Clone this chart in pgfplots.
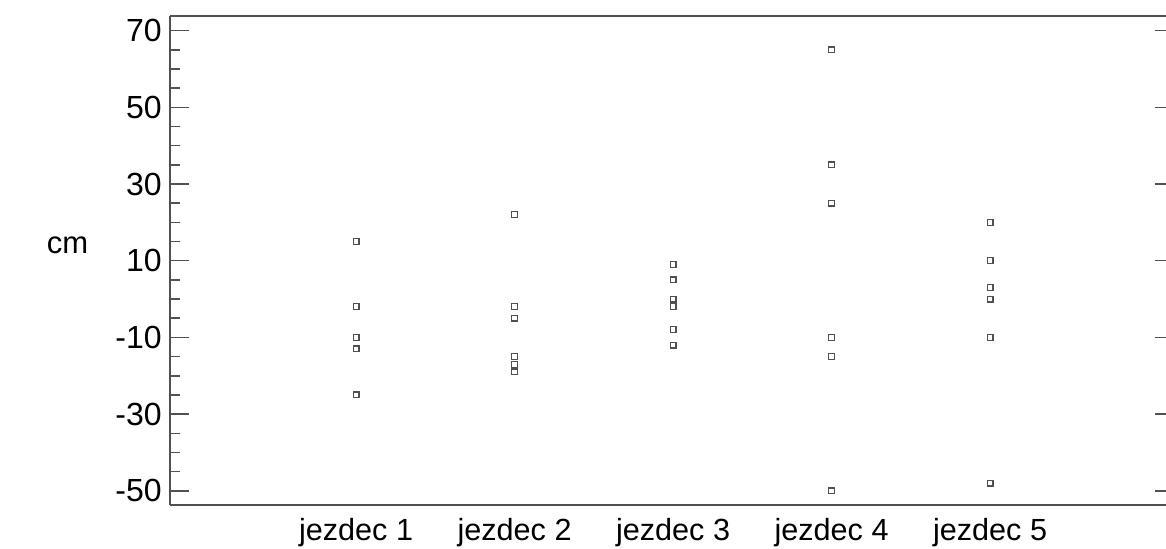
\documentclass[border=0pt]{standalone}
\usepackage{fontspec}
\setmainfont{Liberation Sans}
\usepackage{pgfplots}
\pgfplotsset{compat=1.18}
\definecolor{axgray}{RGB}{80,80,80}
\begin{document}
\fontsize{15}{18}\selectfont
\begin{tikzpicture}
\begin{axis}[
  at={(0,0)}, anchor=south west, scale only axis,
  width=498pt, height=244.5pt,
  xmin=-0.174, xmax=6.11, ymin=-53.7, ymax=73.8,
  axis x line*=box, axis y line*=left,
  axis line style={draw=axgray, line width=0.7pt, -},
  xtick={1,2,3,4,5},
  xticklabels={jezdec 1, jezdec 2, jezdec 3, jezdec 4, jezdec 5},
  x tick style={draw=none},
  ytick={-50,-30,-10,10,30,50,70},
  yticklabels={-50,-30,-10,10,30,50,70},
  minor y tick num=3,
  y tick style={draw=axgray, line width=0.75pt},
  major tick length=9.5pt, minor tick length=5pt,
  tick align=inside,
  xticklabel style={font=\fontsize{15.3}{18}\selectfont, yshift=-1.5pt},
  yticklabel style={font=\fontsize{16}{19}\selectfont, xshift=1pt},
  ylabel={cm},
  every axis y label/.style={at={(rel axis cs:0,0.531)}, anchor=center, xshift=-51.25pt, font=\fontsize{15.5}{18}\selectfont},
  clip=false,
]
\addplot[only marks, mark=square*, mark size=1.45pt,
  mark options={draw=axgray, fill=white, line width=0.65pt}] coordinates {
  (1,15) (1,-2) (1,-10) (1,-13) (1,-25)
  (2,22) (2,-2) (2,-5) (2,-15) (2,-17) (2,-19)
  (3,9) (3,5) (3,0) (3,-2) (3,-8) (3,-12)
  (4,65) (4,35) (4,25) (4,-10) (4,-15) (4,-50)
  (5,20) (5,10) (5,3) (5,0) (5,-10) (5,-48)
};
\end{axis}
\begin{axis}[
  at={(0,0)}, anchor=south west, scale only axis,
  width=498pt, height=244.5pt,
  xmin=-0.174, xmax=6.11, ymin=-53.7, ymax=73.8,
  axis y line*=right, hide x axis,
  y axis line style={draw=none},
  ytick={-50,-30,-10,10,30,50,70},
  yticklabels={},
  y tick style={draw=axgray, line width=0.75pt},
  major tick length=5.5pt,
  tick align=inside,
]
\end{axis}
\pgfresetboundingbox
\path[use as bounding box] (-85pt,-21.5pt) rectangle (498pt,252.5pt);
\end{tikzpicture}
\end{document}
